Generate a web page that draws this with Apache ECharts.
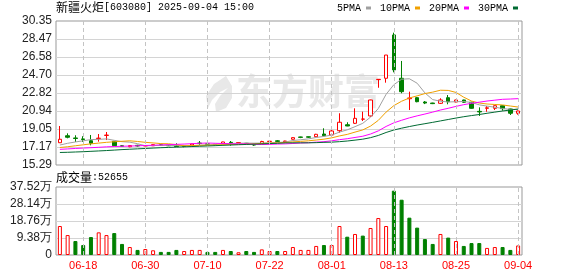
<!DOCTYPE html>
<html><head><meta charset="utf-8">
<script src="https://cdn.jsdelivr.net/npm/echarts@6/dist/echarts.min.js"></script>
<style>html,body{margin:0;padding:0;background:#fff}#c{width:578px;height:276px}</style>
</head><body><div id="c"></div>
<script>
const dates = ['06-13','06-16','06-17','06-18','06-19','06-20','06-23','06-24','06-25','06-26','06-27','06-30',
'07-01','07-02','07-03','07-04','07-07','07-08','07-09','07-10','07-11','07-14','07-15','07-16','07-17','07-18','07-21','07-22',
'07-23','07-24','07-25','07-28','07-29','07-30','07-31','08-01','08-04','08-05','08-06','08-07','08-08','08-11','08-12','08-13',
'08-14','08-15','08-18','08-19','08-20','08-21','08-22','08-25','08-26','08-27','08-28','08-29','09-01','09-02','09-03','09-04'];
const openP = [17.62,18.35,18.12,18.02,17.83,18.05,18.38,17.77,17.30,17.20,17.35,17.28,17.30,17.40,17.36,17.30,17.26,17.38,17.58,17.50,
17.45,17.52,17.66,17.60,17.56,17.42,17.52,17.74,17.82,17.72,17.98,18.22,18.24,18.25,18.53,18.43,18.88,19.50,19.65,20.08,
20.42,24.22,24.36,28.89,24.36,22.22,22.33,21.88,21.77,21.74,22.33,21.88,22.09,21.85,20.90,21.22,21.22,21.49,21.15,20.70];
const closeP = [17.98,18.19,18.06,17.96,17.56,18.10,18.42,17.31,17.25,17.32,17.28,17.33,17.42,17.35,17.30,17.22,17.24,17.50,17.55,17.45,
17.40,17.70,17.62,17.64,17.52,17.38,17.75,17.78,17.76,17.80,18.15,18.18,18.20,18.50,18.35,18.85,19.76,19.37,20.17,20.10,
22.09,24.25,26.79,25.23,22.96,22.30,21.91,21.77,21.71,22.09,21.91,22.09,21.85,21.22,20.84,21.27,21.49,21.18,20.70,20.94];
const lowP = [17.60,18.08,17.70,17.70,17.35,17.73,17.90,17.28,17.18,17.15,17.22,17.25,17.28,17.33,17.27,17.18,17.15,17.36,17.40,17.40,
17.35,17.50,17.31,17.58,17.48,17.30,17.50,17.68,17.70,17.70,17.95,18.10,18.12,18.22,18.30,18.40,18.67,19.35,19.58,19.89,
20.30,23.37,23.90,24.98,22.79,21.04,21.85,21.66,21.66,21.67,21.64,21.85,21.80,21.18,20.42,20.86,21.04,20.97,20.52,20.55];
const highP = [19.37,18.60,18.40,18.30,18.43,18.53,18.74,17.80,17.38,17.36,17.40,17.38,17.45,17.46,17.40,17.56,17.30,17.52,17.80,17.52,
17.48,17.72,17.80,17.66,17.60,17.44,17.82,17.86,17.90,17.82,18.18,18.25,18.26,18.55,19.13,19.13,20.70,19.76,21.22,20.87,
22.12,24.27,26.79,29.13,26.17,22.96,22.40,21.98,21.80,22.27,22.61,22.12,22.12,21.90,21.32,21.46,21.52,21.52,21.18,20.98];
const volumeWan = [16.0,11.0,7.7,5.5,9.9,12.5,11.0,12.1,6.1,4.4,2.8,3.3,2.6,1.7,1.7,2.8,2.2,2.8,2.8,1.7,
1.7,2.8,2.2,1.5,2.2,1.7,3.1,2.2,2.2,2.2,4.4,2.8,2.8,5.0,5.5,5.5,16.0,10.1,11.6,10.7,
14.9,20.4,16.0,35.5,30.5,20.6,15.1,8.8,6.1,11.6,9.6,7.7,5.0,6.6,6.6,3.9,4.4,4.4,2.8,5.27];
const ma5 = [17.38,17.56,17.70,17.82,17.95,17.97,18.02,17.87,17.73,17.68,17.52,17.30,17.32,17.34,17.34,17.32,17.31,17.32,17.36,17.39,
17.43,17.52,17.54,17.56,17.58,17.57,17.58,17.61,17.64,17.69,17.85,17.93,18.02,18.17,18.28,18.42,18.73,18.97,19.30,19.65,
20.30,21.20,22.68,23.69,24.26,24.31,23.84,22.83,22.13,21.96,21.88,21.91,21.93,21.83,21.58,21.45,21.33,21.20,21.10,21.12];
const ma10 = [17.12,17.20,17.30,17.40,17.50,17.58,17.66,17.72,17.77,17.82,17.75,17.66,17.60,17.53,17.51,17.42,17.30,17.32,17.35,17.36,
17.38,17.41,17.43,17.46,17.48,17.50,17.55,17.58,17.60,17.64,17.71,17.76,17.82,17.90,17.99,18.13,18.33,18.49,18.73,18.96,
19.36,19.96,20.82,21.50,21.96,22.30,22.52,22.76,22.91,23.11,23.09,22.88,22.38,21.98,21.77,21.67,21.62,21.57,21.46,21.35];
const ma20 = [16.93,16.97,17.02,17.06,17.10,17.14,17.19,17.22,17.25,17.27,17.30,17.33,17.36,17.39,17.42,17.45,17.48,17.52,17.56,17.59,
17.56,17.54,17.51,17.50,17.50,17.46,17.43,17.45,17.48,17.50,17.54,17.59,17.62,17.68,17.73,17.82,17.94,18.04,18.17,18.30,
18.53,18.86,19.32,19.70,19.97,20.22,20.43,20.62,20.82,21.04,21.22,21.42,21.60,21.74,21.86,21.98,22.07,22.16,22.19,22.23];
const ma30 = [16.60,16.62,16.65,16.68,16.72,16.76,16.80,16.85,16.90,16.94,16.98,17.02,17.06,17.10,17.13,17.16,17.19,17.22,17.25,17.28,
17.31,17.35,17.38,17.41,17.44,17.47,17.50,17.53,17.56,17.60,17.61,17.61,17.61,17.63,17.66,17.68,17.73,17.80,17.89,17.99,
18.15,18.38,18.69,18.95,19.14,19.31,19.47,19.61,19.75,19.90,20.05,20.20,20.34,20.46,20.57,20.70,20.82,20.94,21.04,21.14];
const priceTickLabels = ['15.29','17.17','19.05','20.94','22.82','24.70','26.58','28.47','30.35'];
const volTickLabels = ['0','9.38万','18.76万','28.14万','37.52万'];
const labelDates = ['06-18','06-30','07-10','07-22','08-01','08-13','08-25','09-04'];
const maNames = ['5PMA','10PMA','20PMA','30PMA'];
const lastVolume = '52655';

const PMIN = 15.29, PMAX = 30.35, PINT = 1.8825;
const VMAX = 37.52, VINT = 9.38;
const maColors = ['#a0a0a0','#f0a000','#ff00ff','#006a32'];
const UP = '#ff0000', DOWN = '#008000';

const kData = dates.map((d, i) => [openP[i], closeP[i], lowP[i], highP[i]]);
const volData = volumeWan.map((v, i) => {
  const prev = i === 0 ? openP[0] : closeP[i - 1];
  const up = closeP[i] >= prev;
  return { value: v, itemStyle: up ? { color: '#fff', borderColor: UP, borderWidth: 1 } : { color: DOWN, borderColor: DOWN, borderWidth: 1 } };
});
const vLines = {
  silent: true, symbol: ['none', 'none'], label: { show: false }, animation: false,
  lineStyle: { color: '#c4c4c4', type: [4, 3], width: 1 },
  emphasis: { disabled: true },
  data: labelDates.map(d => ({ xAxis: d }))
};
const maSeries = [ma5, ma10, ma20, ma30].map((arr, k) => ({
  name: maNames[k], type: 'line', xAxisIndex: 0, yAxisIndex: 0, data: arr,
  showSymbol: false, symbol: 'none', color: maColors[k],
  lineStyle: { color: maColors[k], width: 1 }, itemStyle: { color: maColors[k] }, z: 3
}));
const richTxt = {
  a: { fontFamily: 'Noto Sans CJK SC', fontSize: 12, color: '#000', fontWeight: 'normal' },
  b: { fontFamily: 'Liberation Mono', fontSize: 10, color: '#000', fontWeight: 'normal' }
};

const chart = echarts.init(document.getElementById('c'), null, { renderer: 'canvas' });
chart.setOption({
  animation: false,
  backgroundColor: '#fff',
  title: [
    { text: '{a|新疆火炬}{b|[603080] 2025-09-04 15:00}', left: 56, top: 1, padding: 0,
      textStyle: { fontWeight: 'normal', rich: richTxt } },
    { text: '{a|成交量}{b|:' + lastVolume + '}', left: 56, top: 171, padding: 0,
      textStyle: { fontWeight: 'normal', rich: richTxt } }
  ],
  legend: {
    data: maNames, left: 337, top: 3, padding: 0, icon: 'rect', itemWidth: 5, itemHeight: 3,
    align: 'right', itemGap: 9, selectedMode: false,
    textStyle: { fontFamily: 'Liberation Mono', fontSize: 10, color: '#000' }
  },
  graphic: [
    { type: 'text', x: 236, y: 73, z: -1, silent: true,
      style: { text: '东方财富', font: 'bold 36px "Noto Sans CJK SC"', fill: '#e8e8e8' } },
    { type: 'polygon', z: -1, silent: true,
      shape: { points: [[226,76],[214,84],[206,96],[208,108],[212,100],[220,92],[228,88],[220,96],[215,104],[216,112],[226,108],[232,98],[232,86]] },
      style: { fill: '#e8e8e8' } }
  ],
  grid: [
    { left: 56, right: 56, top: 21, height: 144, show: true, borderColor: '#999', borderWidth: 1, backgroundColor: 'transparent' },
    { left: 56, right: 56, top: 187, height: 68, show: true, borderColor: '#999', borderWidth: 1, backgroundColor: 'transparent' }
  ],
  xAxis: [
    { type: 'category', data: dates, gridIndex: 0, boundaryGap: true,
      axisLine: { show: false }, axisTick: { show: false }, axisLabel: { show: false }, splitLine: { show: false } },
    { type: 'category', data: dates, gridIndex: 1, boundaryGap: true,
      axisLine: { show: false }, axisTick: { show: false }, splitLine: { show: false },
      axisLabel: { show: true, interval: (idx, val) => labelDates.indexOf(val) >= 0,
                   color: '#ff0000', fontSize: 11, fontFamily: 'Liberation Sans', margin: 5 } }
  ],
  yAxis: [
    { type: 'value', gridIndex: 0, min: PMIN, max: PMAX, interval: PINT,
      axisLine: { show: false }, axisTick: { show: false },
      axisLabel: { formatter: v => priceTickLabels[Math.round((v - PMIN) / PINT)], color: '#222', fontSize: 12,
                   fontFamily: 'Liberation Sans', margin: 4 },
      splitLine: { show: true, showMinLine: false, showMaxLine: false, lineStyle: { color: '#d4d4d4', width: 1 } } },
    { type: 'value', gridIndex: 1, min: 0, max: VMAX, interval: VINT,
      axisLine: { show: false }, axisTick: { show: false },
      axisLabel: { formatter: v => volTickLabels[Math.round(v / VINT)], color: '#222', fontSize: 12,
                   fontFamily: 'Liberation Sans', margin: 4 },
      splitLine: { show: true, showMinLine: false, showMaxLine: false, lineStyle: { color: '#d4d4d4', width: 1 } } }
  ],
  series: [
    { name: 'K', type: 'candlestick', xAxisIndex: 0, yAxisIndex: 0, data: kData, barWidth: 4, z: 2,
      itemStyle: { color: '#fff', color0: DOWN, borderColor: UP, borderColor0: DOWN, borderWidth: 1 },
      markLine: vLines },
    ...maSeries,
    { name: 'VOL', type: 'bar', xAxisIndex: 1, yAxisIndex: 1, data: volData, barWidth: 4, z: 2,
      markLine: vLines }
  ]
});
</script></body></html>
